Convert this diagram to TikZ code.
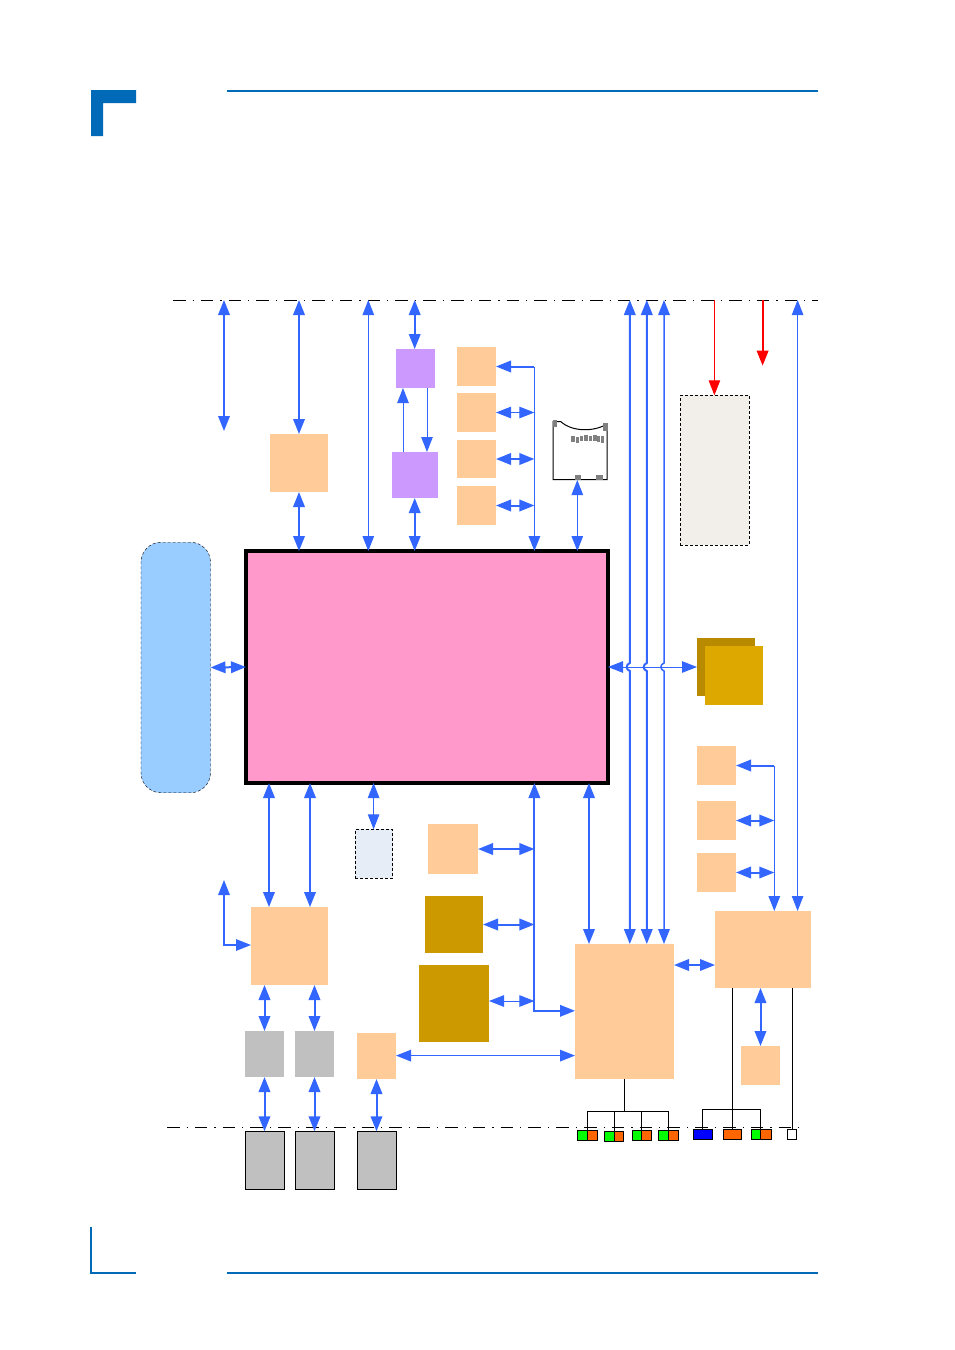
\documentclass[tikz,border=0pt]{standalone}
\usetikzlibrary{arrows.meta,calc}
\definecolor{arrowblue}{HTML}{3366FF}
\definecolor{framebl}{HTML}{006AB8}
\definecolor{peach}{HTML}{FFCC99}
\definecolor{lilac}{HTML}{CC99FF}
\definecolor{goldm}{HTML}{CC9900}
\definecolor{goldd}{HTML}{B88A00}
\definecolor{goldl}{HTML}{DDA800}
\definecolor{greyb}{HTML}{C0C0C0}
\definecolor{pinkc}{HTML}{FF99CC}
\definecolor{skyb}{HTML}{99CCFF}
\definecolor{paleg}{HTML}{F2EFEB}
\definecolor{paleb}{HTML}{E6EDF7}
\definecolor{ledo}{HTML}{FF6600}
\definecolor{ledg}{HTML}{00FF00}
\newcommand\bx[6]{\node[#2,minimum width={(#5)-(#3)},minimum height={(#6)-(#4)}] (#1) at ({((#3)+(#5))/2},{((#4)+(#6))/2}) {};}
\newcommand\ledbox[7]{% name, y1,y2, x1, split, x2, right colour
  \node[ledst,fill=#7,minimum width={(#6)-(#5)},minimum height={(#3)-(#2)}] (#1r) at ({((#5)+(#6))/2},{((#2)+(#3))/2}) {};
  \node[ledst,fill=ledg,minimum width={(#5)-(#4)},minimum height={(#3)-(#2)}] (#1l) at ({((#4)+(#5))/2},{((#2)+(#3))/2}) {};}
\tikzset{
  plain/.style={inner sep=0pt,outer sep=0pt,draw=none},
  peachbox/.style={plain,fill=peach},
  lilacbox/.style={plain,fill=lilac},
  greybox/.style={plain,fill=greyb},
  conn/.style={plain,fill=greyb,draw=black,line width=.6pt},
  ledst/.style={inner sep=0pt,outer sep=0pt,draw=black,line width=1pt},
  dbl/.style={arrowblue,line width=2pt,{Triangle[length=15pt,width=11.5pt]}-{Triangle[length=15pt,width=11.5pt]}},
  dblm/.style={arrowblue,line width=1.5pt,{Triangle[length=15pt,width=11.5pt]}-{Triangle[length=15pt,width=11.5pt]}},
  dblt/.style={arrowblue,line width=1pt,{Triangle[length=15pt,width=11.5pt]}-{Triangle[length=15pt,width=11.5pt]}},
  onet/.style={arrowblue,line width=1pt,-{Triangle[length=15pt,width=11.5pt]}},
  onem/.style={arrowblue,line width=1.5pt,-{Triangle[length=15pt,width=11.5pt]}},
  oneb/.style={arrowblue,line width=2pt,-{Triangle[length=15pt,width=11.5pt]}},
  redt/.style={red,line width=1pt,-{Triangle[length=15pt,width=11.5pt]}},
  redm/.style={red,line width=2pt,-{Triangle[length=15pt,width=11.5pt]}},
  wire/.style={black,line width=1pt},
  busline/.style={black,line width=1pt,dash pattern=on 12.5pt off 7pt on 1.3pt off 7pt},
  rule/.style={framebl,line width=2pt}
}
\begin{document}
\begin{tikzpicture}[x=1pt,y=-1pt]
\useasboundingbox (0,0) rectangle (954,1350);
% page furniture
\fill[framebl] (91,90) -- (136,90) -- (136,103) -- (103,103) -- (103,136) -- (91,136) -- cycle;
\draw[rule] (227,91) -- (818,91);
\draw[rule] (227,1273) -- (818,1273);
\draw[rule] (91,1227) -- (91,1273) -- (136,1273);
% bus lines
\coordinate (btl) at (173,300); \coordinate (btr) at (818,300);
\coordinate (bbl) at (167,1127); \coordinate (bbr) at (800,1127);
\draw[busline] (btl) -- (btr);
\draw[busline] (bbl) -- (bbr);
% boxes
\node[inner sep=0pt,outer sep=0pt,fill=pinkc,draw=black,line width=4pt,minimum width=362pt,minimum height=232pt] (cpu) at (427,667) {};
\node[inner sep=0pt,outer sep=0pt,fill=skyb,draw=black,line width=.4pt,densely dashed,rounded corners=20pt,minimum width=69.5pt,minimum height=250.5pt] (mem) at (175.75,667.5) {};
\bx{usb}{peachbox}{270}{434}{328}{492}
\bx{lpa}{lilacbox}{396}{349}{435}{388}
\bx{lpb}{lilacbox}{392}{452}{438}{498}
\bx{oa}{peachbox}{457}{347}{496}{386}
\bx{ob}{peachbox}{457}{393}{496}{432}
\bx{oc}{peachbox}{457}{440}{496}{478}
\bx{od}{peachbox}{457}{486}{496}{525}
\node[inner sep=0pt,outer sep=0pt,draw=black,line width=.5pt,densely dashed,fill=paleg,minimum width=69pt,minimum height=149.5pt] (pale) at (714.8,470) {};
\bx{gd}{plain,fill=goldd}{697}{638}{755}{696}
\bx{gl}{plain,fill=goldl}{705}{646}{763}{705}
\bx{ra}{peachbox}{697}{746}{736}{785}
\bx{rb}{peachbox}{697}{801}{736}{840}
\bx{rc}{peachbox}{697}{853}{736}{892}
\bx{ctl}{peachbox}{715}{911}{811}{988}
\bx{hub}{peachbox}{575}{944}{674}{1079}
\bx{rd}{peachbox}{741}{1046}{780}{1085}
\bx{sw}{peachbox}{251}{907}{328}{985}
\node[inner sep=0pt,outer sep=0pt,draw=black,line width=.5pt,densely dashed,fill=paleb,minimum width=37.4pt,minimum height=49pt] (tpm) at (374,853.8) {};
\bx{ga}{greybox}{245}{1031}{284}{1077}
\bx{gb}{greybox}{295}{1031}{334}{1077}
\bx{pa}{conn}{245.3}{1131.3}{284.7}{1189.5}
\bx{pb}{conn}{295.3}{1131.3}{334.7}{1189.5}
\bx{pc}{conn}{357.3}{1131.3}{396.7}{1189.5}
\bx{oe}{peachbox}{357}{1033}{396}{1079}
\bx{of}{peachbox}{428}{824}{478}{874}
\bx{ma}{plain,fill=goldm}{425}{896}{483}{953}
\bx{mb}{plain,fill=goldm}{419}{965}{489}{1042}
% card connector
\coordinate (cardb) at (577.3,480);
\draw[black,line width=1pt,fill=white] (553,421.5) -- (560.7,421.5) .. controls (572,432) and (594,432) .. (607,424) -- (607,479.7) -- (553,479.7) -- cycle;
\foreach \a/\b/\c/\d in {552.7/420/557.3/427,602.7/422.7/608/430.7,575/475/581/480,596/475/603/480,
  571/436/575/442,576/437/579/443,580/436/583/441,584/435/588/441,589/436/591.5/441,593/435/596.5/441,597/436/600/442,601/436/604/443}
  \fill[gray] (\a,\b) rectangle (\c,\d);
% column helpers
\foreach \n/\x in {a/224,b/368.3,c/629.8,d/646.8,e/664,f/714.4,g/762.6,h/797.6,i/534.4,j/774.3,k/589,l/403,m/427,o/414.7}
  \coordinate (c\n) at (\x,0);
\coordinate (hy) at (0,667);
% top connectors
\coordinate (ea) at (224,431);
\draw[dbl] (ca |- btl) -- (ea);
\draw[dbl] (usb.north |- btl) -- (usb.north);
\draw[dbl] (usb.south) -- (usb.south |- cpu.north);
\draw[dblt] (cb |- btl) -- (cb |- cpu.north);
\draw[dbl] (co |- btl) -- (co |- lpa.north);
\draw[dbl] (co |- lpb.south) -- (co |- cpu.north);
\draw[onet] (cl |- lpb.north) -- (cl |- lpa.south);
\draw[onet] (cm |- lpa.south) -- (cm |- lpb.north);
% right branch of top peach boxes
\draw[oneb] (ci |- oa.east) -- (oa.east);
\draw[onem] (ci |- oa.east) -- (ci |- cpu.north);
\draw[dblt] (ob.east) -- (ci |- ob.east);
\draw[dbl] (oc.east) -- (ci |- oc.east);
\draw[dbl] (od.east) -- (ci |- od.east);
\draw[dblt] (cardb) -- (cardb |- cpu.north);
% long verticals with a small bridge over the horizontal
\draw[dbl] (cc |- btl) -- ($(cc |- hy)+(0,-4)$) to[out=200,in=160,looseness=1.4] ($(cc |- hy)+(0,4)$) -- (cc |- hub.north);
\draw[dbl] (cd |- btl) -- ($(cd |- hy)+(0,-4)$) to[out=200,in=160,looseness=1.4] ($(cd |- hy)+(0,4)$) -- (cd |- hub.north);
\draw[dblm] (ce |- btl) -- ($(ce |- hy)+(0,-4)$) to[out=200,in=160,looseness=1.4] ($(ce |- hy)+(0,4)$) -- (ce |- hub.north);
\draw[dblt] (cpu.east) -- (cpu.east -| gd.west);
\draw[redt] (cf |- btl) -- (cf |- pale.north);
\coordinate (eg) at (762.6,365.7);
\draw[redm] (cg |- btl) -- (eg);
\draw[dblt] (ch |- btl) -- (ch |- ctl.north);
\draw[dbl] (mem.east) -- (cpu.west);
% right side
\draw[oneb] (cj |- ra.east) -- (ra.east);
\draw[onem] (cj |- ra.east) -- (cj |- ctl.north);
\draw[dbl] (rb.east) -- (cj |- rb.east);
\draw[dbl] (rc.east) -- (cj |- rc.east);
\coordinate (hy2) at (0,965);
\draw[dbl] (hub.east |- hy2) -- (ctl.west |- hy2);
\draw[dbl] (rd.north) -- (rd.north |- ctl.south);
% bottom left
\coordinate (c269) at (269,0); \coordinate (c310) at (310,0); \coordinate (c374) at (373.6,0);
\draw[dbl] (c269 |- cpu.south) -- (c269 |- sw.north);
\draw[dbl] (c310 |- cpu.south) -- (c310 |- sw.north);
\draw[dblt] (c374 |- cpu.south) -- (c374 |- tpm.north);
\coordinate (ua) at (224,880);
\coordinate (sy) at (0,945);
\draw[dblm] (ua) -- (ua |- sy) -- (sw.west |- sy);
\draw[dbl] (ga.north |- sw.south) -- (ga.north);
\draw[dbl] (gb.north |- sw.south) -- (gb.north);
\draw[dbl] (ga.south) -- (ga.south |- pa.north);
\draw[dbl] (gb.south) -- (gb.south |- pb.north);
\draw[dbl] (oe.south) -- (oe.south |- pc.north);
\coordinate (y1055) at (0,1055.6);
\draw[dblm] (oe.east |- y1055) -- (hub.west |- y1055);
\draw[dbl] (of.east) -- (ci |- of.east);
\draw[dbl] (ma.east) -- (ci |- ma.east);
\coordinate (y1001) at (0,1001);
\draw[dblt] (mb.east |- y1001) -- (ci |- y1001);
\coordinate (y1011) at (0,1010.8);
\draw[dbl] (ci |- cpu.south) -- (ci |- y1011) -- (hub.west |- y1011);
\draw[dbl] (ck |- cpu.south) -- (ck |- hub.north);
% LEDs
\ledbox{la}{1130.3}{1140.7}{577.3}{587.3}{597.3}{ledo}
\ledbox{lb}{1131.3}{1141}{604.3}{614.3}{623.7}{ledo}
\ledbox{lc}{1130.3}{1140.7}{632.3}{641.3}{651.7}{ledo}
\ledbox{ld}{1130.3}{1140.7}{658.3}{668.3}{678.7}{ledo}
\node[ledst,fill=blue,minimum width=19pt,minimum height=10.4pt] (le) at (702.8,1134.5) {};
\node[ledst,fill=ledo,minimum width=18.4pt,minimum height=10pt] (lf) at (732.5,1134.5) {};
\ledbox{lg}{1129.3}{1139.3}{751.3}{760.3}{771.7}{ledo}
\node[ledst,fill=white,minimum width=9.4pt,minimum height=10pt] (lh) at (792,1134.3) {};
\coordinate (y1111) at (0,1111.3);
\coordinate (y1109) at (0,1109.3);
\coordinate (hubd) at (624.3,1079);
\draw[wire] (hubd) -- (hubd |- y1111);
\draw[wire] (lal.east |- lal.north) -- (lal.east |- y1111) -- (ldl.east |- y1111) -- (ldl.east |- ldl.north);
\draw[wire] (lbl.east |- lbl.north) -- (lbl.east |- y1111);
\draw[wire] (lcl.east |- lcl.north) -- (lcl.east |- y1111);
\draw[wire] (le.north) -- (le.north |- y1109) -- (lgl.east |- y1109) -- (lgl.east |- lgl.north);
\draw[wire] (lf.north |- ctl.south) -- (lf.north);
\draw[wire] (lh.north |- ctl.south) -- (lh.north);
\end{tikzpicture}
\end{document}
